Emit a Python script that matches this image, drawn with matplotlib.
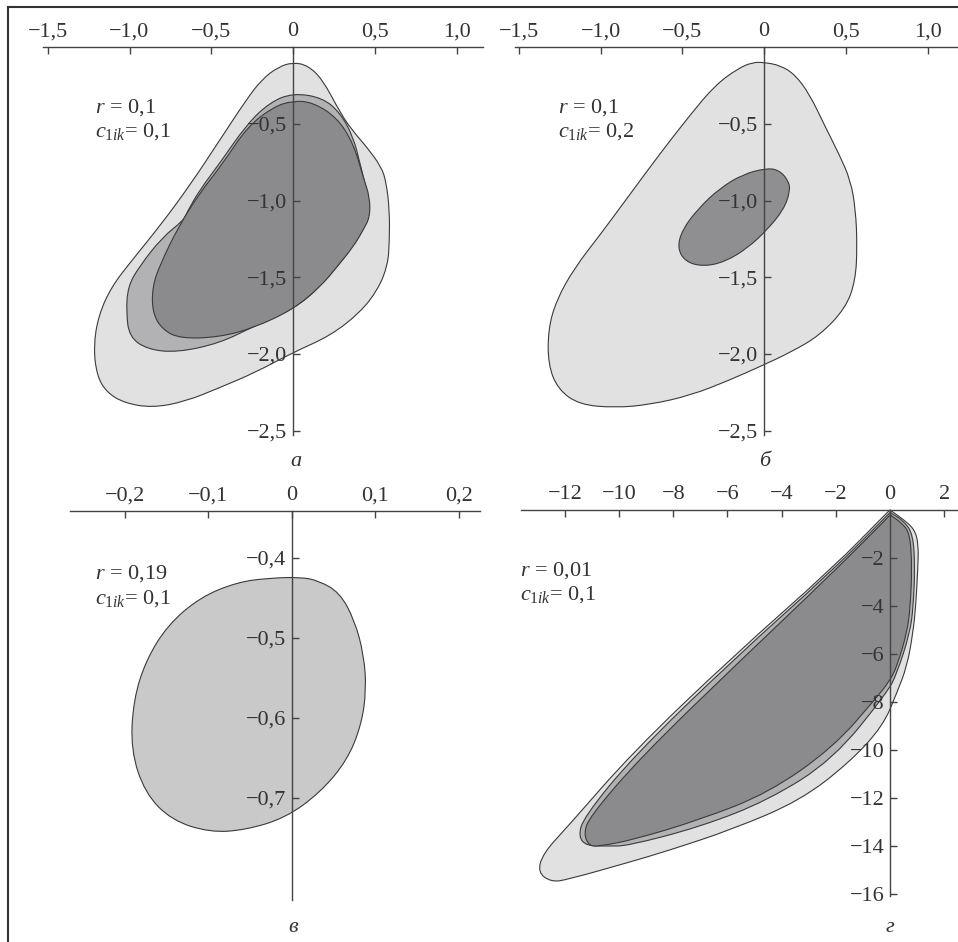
import glob
import matplotlib
matplotlib.use('Agg')
import matplotlib.pyplot as plt
from matplotlib import font_manager
from matplotlib.patches import PathPatch
from matplotlib.path import Path
from matplotlib.lines import Line2D

# find a Times-like serif font if one is installed
for f in glob.glob('/usr/share/fonts/**/*.[ot]tf', recursive=True):
    low = f.lower()
    if 'serif' in low or 'tinos' in low or 'times' in low or 'nimbus' in low:
        try:
            font_manager.fontManager.addfont(f)
        except Exception:
            pass
names = {f.name for f in font_manager.fontManager.ttflist}
SERIF = 'DejaVu Serif'
for cand in ['Liberation Serif', 'Tinos', 'Times New Roman', 'Nimbus Roman', 'Nimbus Roman No9 L',
             'FreeSerif', 'Noto Serif', 'DejaVu Serif']:
    if cand in names:
        SERIF = cand
        break

plt.rcParams['font.family'] = [SERIF, 'DejaVu Serif']
plt.rcParams['mathtext.fontset'] = 'custom'
plt.rcParams['mathtext.rm'] = SERIF
plt.rcParams['mathtext.it'] = SERIF + ':italic'

# ---- panel a: r = 0,1, c1ik = 0,1 ----
a_outer_x = [0.00, 0.09, 0.18, 0.29, 0.36, 0.45, 0.54, 0.57, 0.59, 0.59, 0.58, 0.52, 0.41, 0.23,
             0.00, -0.23, -0.45, -0.66, -0.86, -1.03, -1.14, -1.20, -1.22, -1.19, -1.11, -0.97,
             -0.81, -0.63, -0.45, -0.29, -0.19, -0.09]
a_outer_y = [-0.10, -0.12, -0.21, -0.43, -0.54, -0.65, -0.78, -0.88, -1.06, -1.26, -1.42, -1.58,
             -1.73, -1.88, -1.99, -2.12, -2.22, -2.31, -2.35, -2.32, -2.25, -2.14, -1.95, -1.75,
             -1.56, -1.37, -1.16, -0.90, -0.61, -0.35, -0.21, -0.13]
a_mid_x = [0.00, 0.18, 0.29, 0.37, 0.41, 0.45, 0.47, 0.46, 0.37, 0.17, 0.00, -0.24, -0.45, -0.71,
           -0.89, -1.00, -1.02, -1.01, -0.94, -0.80, -0.67, -0.65, -0.57, -0.45, -0.28, -0.14]
a_mid_y = [-0.30, -0.33, -0.43, -0.59, -0.76, -0.93, -1.04, -1.13, -1.30, -1.56, -1.71, -1.82,
           -1.93, -1.99, -1.97, -1.89, -1.73, -1.56, -1.43, -1.24, -1.13, -1.08, -0.93, -0.76,
           -0.50, -0.36]
a_dark_x = [0.00, 0.12, 0.27, 0.37, 0.43, 0.47, 0.47, 0.43, 0.37, 0.27, 0.17, 0.00, -0.24, -0.45,
            -0.69, -0.80, -0.86, -0.86, -0.81, -0.70, -0.57, -0.43, -0.28, -0.12]
a_dark_y = [-0.35, -0.36, -0.46, -0.63, -0.85, -0.98, -1.11, -1.19, -1.30, -1.43, -1.56, -1.71,
            -1.83, -1.89, -1.90, -1.84, -1.73, -1.56, -1.41, -1.17, -0.95, -0.76, -0.52, -0.39]
a_xticks = [-1.5, -1.0, -0.5, 0.0, 0.5, 1.0]
a_xlabels = ['−1,5', '−1,0', '−0,5', '0', '0,5', '1,0']
a_yticks = [-0.5, -1.0, -1.5, -2.0, -2.5]
a_ylabels = ['−0,5', '−1,0', '−1,5', '−2,0', '−2,5']

# ---- panel b: r = 0,1, c1ik = 0,2 ----
b_outer_x = [0.00, 0.10, 0.19, 0.28, 0.37, 0.46, 0.53, 0.56, 0.57, 0.56, 0.50, 0.34, 0.16, 0.00,
             -0.21, -0.45, -0.70, -0.91, -1.13, -1.26, -1.32, -1.32, -1.27, -1.16, -1.00, -0.82,
             -0.64, -0.45, -0.30, -0.16, -0.07]
b_outer_y = [-0.10, -0.12, -0.18, -0.31, -0.51, -0.70, -0.87, -1.06, -1.29, -1.52, -1.70, -1.88,
             -1.99, -2.07, -2.17, -2.27, -2.33, -2.35, -2.33, -2.23, -2.07, -1.84, -1.65, -1.44,
             -1.22, -0.96, -0.70, -0.44, -0.25, -0.14, -0.10]
b_dark_x = [0.01, 0.09, 0.15, 0.16, 0.12, 0.02, -0.10, -0.24, -0.37, -0.48, -0.53, -0.50, -0.40,
            -0.27, -0.13]
b_dark_y = [-0.79, -0.80, -0.87, -0.94, -1.06, -1.19, -1.31, -1.40, -1.43, -1.40, -1.31, -1.19,
            -1.05, -0.92, -0.83]
b_xticks = a_xticks
b_xlabels = a_xlabels
b_yticks = a_yticks
b_ylabels = a_ylabels

# ---- panel c: r = 0,19, c1ik = 0,1 ----
c_fill_x = [-0.026, 0.010, 0.031, 0.057, 0.075, 0.086, 0.089, 0.083, 0.066, 0.034, -0.008,
            -0.056, -0.098, -0.144, -0.176, -0.193, -0.190, -0.175, -0.149, -0.110, -0.065]
c_fill_y = [-0.425, -0.424, -0.428, -0.443, -0.478, -0.521, -0.565, -0.609, -0.653, -0.693,
            -0.725, -0.740, -0.743, -0.728, -0.694, -0.640, -0.578, -0.528, -0.484, -0.449,
            -0.430]
c_xticks = [-0.2, -0.1, 0.0, 0.1, 0.2]
c_xlabels = ['−0,2', '−0,1', '0', '0,1', '0,2']
c_yticks = [-0.4, -0.5, -0.6, -0.7]
c_ylabels = ['−0,4', '−0,5', '−0,6', '−0,7']

# ---- panel d: r = 0,01, c1ik = 0,1 ----
d_outer_x = [0.00, 0.50, 0.90, 1.05, 1.03, 0.95, 0.85, 0.63, 0.26, -0.26, -1.48, -3.3, -5.8,
             -8.2, -9.7, -11.9, -12.5, -13.0, -12.8, -11.9, -9.5, -5.8, -2.1, -0.1]
d_outer_y = [0.00, -0.40, -0.80, -1.40, -2.40, -4.00, -5.10, -6.50, -7.60, -9.00, -10.5, -12.1,
             -13.3, -14.2, -14.7, -15.4, -15.5, -15.1, -14.3, -13.2, -10.1, -6.1, -2.4, -0.1]
d_mid_x = [0.00, 0.50, 0.85, 0.92, 0.86, 0.74, 0.26, -0.10, -2.1, -4.5, -7.0, -9.7, -10.4,
           -11.2, -11.5, -11.3, -9.5, -5.8, -2.1, -0.08]
d_mid_y = [-0.10, -0.45, -1.00, -2.40, -4.00, -5.10, -6.80, -7.60, -10.4, -12.1, -13.2, -14.0,
           -14.0, -14.0, -13.6, -12.8, -10.3, -6.25, -2.5, -0.20]
d_dark_x = [0.00, 0.45, 0.74, 0.81, 0.75, 0.63, 0.26, 0.00, -0.48, -2.1, -4.5, -7.0, -9.5,
            -10.7, -11.1, -11.3, -11.1, -9.2, -5.5, -2.1, -0.07]
d_dark_y = [-0.20, -0.55, -1.00, -2.40, -4.00, -5.10, -6.50, -7.10, -7.80, -9.90, -11.8, -12.9,
            -13.75, -14.0, -14.0, -13.5, -12.8, -10.3, -6.25, -2.6, -0.30]
d_xticks = [-12, -10, -8, -6, -4, -2, 0, 2]
d_xlabels = ['−12', '−10', '−8', '−6', '−4', '−2', '0', '2']
d_yticks = [-2, -4, -6, -8, -10, -12, -14, -16]
d_ylabels = ['−2', '−4', '−6', '−8', '−10', '−12', '−14', '−16']

panel_params = [
    ['$r$ = 0,1', '$c_{\\mathrm{1}ik}$= 0,1'],
    ['$r$ = 0,1', '$c_{\\mathrm{1}ik}$= 0,2'],
    ['$r$ = 0,19', '$c_{\\mathrm{1}ik}$= 0,1'],
    ['$r$ = 0,01', '$c_{\\mathrm{1}ik}$= 0,1'],
]
panel_letters = ['а', 'б', 'в', 'г']

LIGHT = '#e1e1e1'
MID = '#b2b2b4'
DARK = '#8b8b8d'
EDGE = '#3a3a3a'
TXT = '#333333'
FS = 16

W, H = 958, 942
fig = plt.figure(figsize=(W / 100, H / 100), dpi=100)


def make_axes(box, x0, xs, y0, ys):
    # box in pixels (left, top, right, bottom); x0/y0 pixel of data zero, xs/ys px per unit
    l, t, r, b = box
    ax = fig.add_axes([l / W, 1 - b / H, (r - l) / W, (b - t) / H])
    ax.set_xlim((l - x0) / xs, (r - x0) / xs)
    ax.set_ylim((y0 - b) / ys, (y0 - t) / ys)
    ax.patch.set_visible(False)
    return ax


def style(ax, xline_y, xbounds, ybounds, xticks, xlabels, yticks, ylabels):
    ax.spines['right'].set_visible(False)
    ax.spines['bottom'].set_visible(False)
    ax.spines['top'].set_position(('data', xline_y))
    ax.spines['top'].set_bounds(*xbounds)
    ax.spines['left'].set_position(('data', 0))
    ax.spines['left'].set_bounds(*ybounds)
    for s in ('top', 'left'):
        ax.spines[s].set_color('#444444')
        ax.spines[s].set_linewidth(1.0)
    ax.xaxis.set_ticks_position('top')
    ax.yaxis.set_ticks_position('left')
    ax.set_xticks(xticks, xlabels)
    ax.set_yticks(yticks, ylabels)
    ax.tick_params(direction='in', length=5, width=1.0, color='#444444',
                   labelsize=FS, labelcolor=TXT)
    ax.tick_params(axis='x', pad=4)
    ax.tick_params(axis='y', pad=4)


def shape(ax, xs, ys, color, corners=()):
    # closed smooth outline: read points act as quadratic control points
    pts = list(zip(xs, ys))
    n = len(pts)
    mids = [((pts[i][0] + pts[(i + 1) % n][0]) / 2, (pts[i][1] + pts[(i + 1) % n][1]) / 2)
            for i in range(n)]
    verts = [mids[-1]]
    codes = [Path.MOVETO]
    for i in range(n):
        verts += [pts[i], mids[i]]
        if i in corners:
            codes += [Path.LINETO, Path.LINETO]
        else:
            codes += [Path.CURVE3, Path.CURVE3]
    verts.append(mids[-1])
    codes.append(Path.CLOSEPOLY)
    ax.add_patch(PathPatch(Path(verts, codes), fc=color, ec=EDGE, lw=0.8,
                           joinstyle='round', zorder=1))


ax_a = make_axes((12, 12, 484, 470), 293, 163.5, 47, 153.5)
style(ax_a, 0, (-1.53, 1.16), (-2.53, 0), a_xticks, a_xlabels, a_yticks, a_ylabels)
shape(ax_a, a_outer_x, a_outer_y, LIGHT)
shape(ax_a, a_mid_x, a_mid_y, MID)
shape(ax_a, a_dark_x, a_dark_y, DARK)

ax_b = make_axes((484, 12, 958, 470), 764, 163.5, 47, 153.5)
style(ax_b, 0, (-1.52, 1.19), (-2.53, 0), b_xticks, b_xlabels, b_yticks, b_ylabels)
shape(ax_b, b_outer_x, b_outer_y, LIGHT)
shape(ax_b, b_dark_x, b_dark_y, '#8f8f91')

ax_c = make_axes((12, 480, 484, 942), 292, 835, 238, 800)
style(ax_c, -0.34125, (-0.266, 0.225), (-0.8275, -0.34125), c_xticks, c_xlabels, c_yticks, c_ylabels)
shape(ax_c, c_fill_x, c_fill_y, '#c9c9c9')

ax_d = make_axes((484, 480, 958, 942), 890, 27.1, 510, 24)
style(ax_d, 0, (-13.6, 2.5), (-16.1, 0), d_xticks, d_xlabels, d_yticks, d_ylabels)
shape(ax_d, d_outer_x, d_outer_y, LIGHT, corners=(0,))
shape(ax_d, d_mid_x, d_mid_y, MID, corners=(0,))
shape(ax_d, d_dark_x, d_dark_y, DARK, corners=(0,))

# parameter annotations (pixel anchors -> figure fractions)
note_pos = [(95, 113, 137), (558, 113, 137), (95, 579, 604), (520, 576, 600)]
for (px, py1, py2), (t1, t2) in zip(note_pos, panel_params):
    fig.text(px / W, 1 - py1 / H, t1, fontsize=FS, color=TXT, va='baseline', ha='left')
    fig.text(px / W, 1 - py2 / H, t2, fontsize=FS, color=TXT, va='baseline', ha='left')

letter_pos = [(296, 462), (765, 462), (293, 928), (890, 928)]
for (px, py), letter in zip(letter_pos, panel_letters):
    fig.text(px / W, 1 - py / H, letter, fontsize=FS, style='italic', color=TXT,
             ha='center', va='center')

# outer frame (left and top edges)
fig.add_artist(Line2D([8 / W, 8 / W], [0, 1 - 7 / H], color='#333333', lw=1.5))
fig.add_artist(Line2D([8 / W, 1], [1 - 7 / H, 1 - 7 / H], color='#333333', lw=1.5))

fig.savefig('out.png', dpi=100)
